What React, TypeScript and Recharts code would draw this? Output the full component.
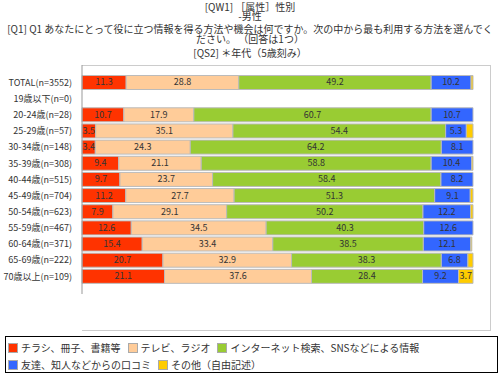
import { BarChart, Bar, XAxis, YAxis, Legend, LabelList } from 'recharts';

const categories = [
  'TOTAL(n=3552)', '19歳以下(n=0)', '20-24歳(n=28)', '25-29歳(n=57)', '30-34歳(n=148)',
  '35-39歳(n=308)', '40-44歳(n=515)', '45-49歳(n=704)', '50-54歳(n=623)', '55-59歳(n=467)',
  '60-64歳(n=371)', '65-69歳(n=222)', '70歳以上(n=109)'
];

const flyers = [11.3, 0, 10.7, 3.5, 3.4, 9.4, 9.7, 11.2, 7.9, 12.6, 15.4, 20.7, 21.1];
const tvRadio = [28.8, 0, 17.9, 35.1, 24.3, 21.1, 23.7, 27.7, 29.1, 34.5, 33.4, 32.9, 37.6];
const internet = [49.2, 0, 60.7, 54.4, 64.2, 58.8, 58.4, 51.3, 50.2, 40.3, 38.5, 38.3, 28.4];
const wordOfMouth = [10.2, 0, 10.7, 5.3, 8.1, 10.4, 8.2, 9.1, 12.2, 12.6, 12.1, 6.8, 9.2];
const other = [0.5, 0, 0, 1.7, 0, 0.3, 0, 0.7, 0.6, 0, 0.3, 1.3, 3.7];

const series = [
  { key: 'flyers', name: 'チラシ、冊子、書籍等', color: '#ff3300', values: flyers },
  { key: 'tvRadio', name: 'テレビ、ラジオ', color: '#ffcc99', values: tvRadio },
  { key: 'internet', name: 'インターネット検索、SNSなどによる情報', color: '#99cc33', values: internet },
  { key: 'wordOfMouth', name: '友達、知人などからの口コミ', color: '#3366ff', values: wordOfMouth },
  { key: 'other', name: 'その他（自由記述）', color: '#ffcc00', values: other }
];

const titleLines = [
  '[QW1] ［属性］性別',
  '-男性',
  '[Q1] Q1 あなたにとって役に立つ情報を得る方法や機会は何ですか。次の中から最も利用する方法を選んでく',
  'ださい。 （回答は1つ）',
  '[QS2] ＊年代（5歳刻み）'
];
const titleBaselines = [10.5, 19.5, 32.5, 42.5, 57];

const data = categories.map((name, i) => {
  const row: Record<string, any> = { name };
  series.forEach(s => { row[s.key] = s.values[i]; });
  return row;
});

const FONT = '"Noto Sans CJK JP", "Noto Sans", sans-serif';

const renderLabel = (props: any) => {
  const { x, y, width, height, value } = props;
  if (value == null || value < 3) return null;
  return (
    <text x={x + width / 2} y={y + height / 2 + 0.5} textAnchor="middle" dominantBaseline="middle"
      fontSize={9} fill="#333" fontFamily={FONT}>
      {value.toFixed(1)}
    </text>
  );
};

const renderLegend = () => (
  <div style={{ display: 'flex', flexWrap: 'wrap', padding: '2px 0 0 2px', fontSize: 10, fontFamily: FONT, color: '#333' }}>
    {series.map(s => (
      <div key={s.key} style={{ display: 'flex', alignItems: 'center', height: 17, marginRight: 7 }}>
        <span style={{ width: 8, height: 8, background: s.color, border: '1px solid #aaa', marginRight: 3, display: 'inline-block' }} />
        <span>{s.name}</span>
      </div>
    ))}
  </div>
);

export default function App() {
  return (
    <div style={{ position: 'absolute', left: 0, top: 0, width: 500, height: 375, background: '#fff' }}>
      <svg width={500} height={62} style={{ position: 'absolute', left: 0, top: 0 }}>
        {titleLines.map((t, i) => (
          <text key={t} x={250} y={titleBaselines[i]} textAnchor="middle" fontSize={10} fill="#333" fontFamily={FONT}>{t}</text>
        ))}
      </svg>
      <div style={{ position: 'absolute', left: 82, top: 65, width: 409, height: 266, border: '1px solid #ccc', borderLeft: 'none', boxSizing: 'border-box' }} />
      <div style={{ position: 'absolute', left: 0, top: 0 }}>
        <BarChart width={500} height={375} data={data} layout="vertical" barSize={14}
          margin={{ top: 65, right: 8, bottom: 44, left: 0 }}>
          <XAxis type="number" hide domain={[0, 100]} padding={{ right: 19 }} />
          <YAxis type="category" dataKey="name" width={82} padding={{ top: 9.5, bottom: 9.5 }}
            axisLine={{ stroke: '#999' }} tickLine={false}
            tick={{ fontSize: 9, fill: '#333', fontFamily: FONT }} tickMargin={4} interval={0} />
          {series.map(s => (
            <Bar key={s.key} dataKey={s.key} name={s.name} stackId="a" fill={s.color}
              stroke="#bbb" strokeWidth={1} isAnimationActive={false}>
              <LabelList dataKey={s.key} content={renderLabel} />
            </Bar>
          ))}
          <Legend content={renderLegend}
            wrapperStyle={{ position: 'absolute', left: 5, top: 336, width: 493, height: 37, border: '1px solid #000', boxSizing: 'border-box' }} />
        </BarChart>
      </div>
    </div>
  );
}
